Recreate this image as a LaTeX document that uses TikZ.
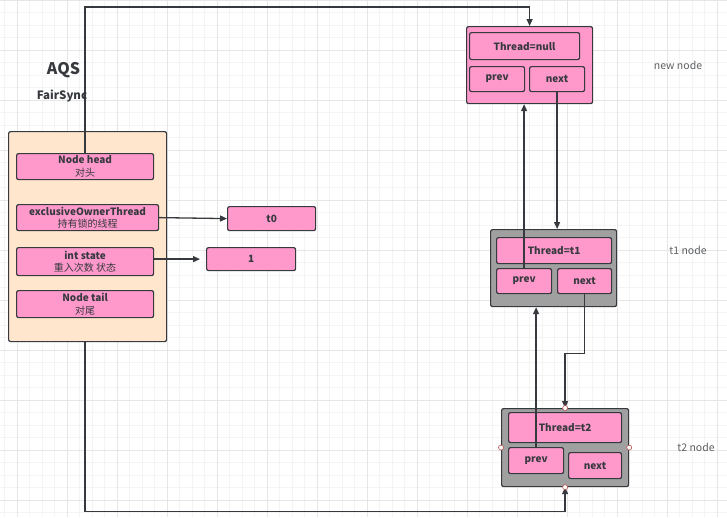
\documentclass[tikz,border=0pt]{standalone}
\usepackage{fontspec}
\setmainfont{Noto Sans CJK SC}
\usetikzlibrary{arrows.meta}
\definecolor{pinkfill}{HTML}{FF99CC}
\definecolor{peach}{HTML}{FFE6CC}
\definecolor{holdgray}{HTML}{A0A0A0}
\definecolor{inkdark}{HTML}{36393D}
\definecolor{gridlo}{HTML}{F4F4F4}
\definecolor{gridhi}{HTML}{E6E6E6}
\definecolor{handlered}{HTML}{B85450}
\tikzset{
  box/.style={rectangle,rounded corners=2pt,draw=inkdark,line width=1.2pt,inner sep=0pt,anchor=north west,
    text=inkdark,font=\fontsize{10}{12.5}\selectfont,align=center},
  field/.style={box,fill=pinkfill},
  holder/.style={box,fill=peach},
  grayholder/.style={box,fill=holdgray},
  pinkholder/.style={box,fill=pinkfill},
  link/.style={draw=inkdark,line width=1.3pt,-{Triangle[length=7pt,width=6pt]}},
  tag/.style={text=inkdark!80,font=\fontsize{10.5}{12}\selectfont},
  handle/.style={circle,draw=handlered,fill=white,line width=0.6pt,inner sep=0pt,minimum size=5pt}
}
\begin{document}
\begin{tikzpicture}[x=1pt,y=-1pt]
	\useasboundingbox (0,0) rectangle (727,517);
	\fill[white] (0,0) rectangle (727,517);
	% background grid
	\foreach \gx in {4.5,17,...,727} \draw[gridlo,line width=0.8pt] (\gx,0) -- (\gx,517);
	\foreach \gy in {12.5,25,...,517} \draw[gridlo,line width=0.8pt] (0,\gy) -- (727,\gy);
	\foreach \gx in {17,67,...,727} \draw[gridhi,line width=0.8pt] (\gx,0) -- (\gx,517);
	\foreach \gy in {0,50,...,517} \draw[gridhi,line width=0.8pt] (0,\gy) -- (727,\gy);

	% AQS side
	\node[text=inkdark,font=\bfseries\fontsize{16}{17}\selectfont] (aqslbl) at (63.5,70) {AQS};
	\node[text=inkdark,font=\bfseries\fontsize{11.5}{13}\selectfont] (synclbl) at (62,96) {FairSync};
	\node[holder,minimum width=158,minimum height=210] (aqs) at (8,131) {};
	\node[field,minimum width=137,minimum height=26] (head) at (16,153) {\textbf{Node head}\\对头};
	\node[field,minimum width=142,minimum height=26] (owner) at (16,204) {\textbf{exclusiveOwnerThread}\\持有锁的线程};
	\node[field,minimum width=137,minimum height=28] (state) at (16,247) {\textbf{int state}\\重入次数 状态};
	\node[field,minimum width=137,minimum height=27] (tail) at (16,290) {\textbf{Node tail}\\对尾};
	\node[field,minimum width=88,minimum height=24] (tzero) at (227,206) {\textbf{t0}};
	\node[field,minimum width=89,minimum height=23] (one) at (206,247) {\textbf{1}};

	% new node
	\node[pinkholder,minimum width=126,minimum height=77] (newnode) at (466,26) {};
	\node[field,minimum width=110,minimum height=27] (nthr) at (469,32) {\textbf{Thread=null}};
	\node[field,minimum width=55,minimum height=25] (nprev) at (469,66) {\textbf{prev}};
	\node[field,minimum width=55,minimum height=25] (nnext) at (529,66) {\textbf{next}};
	\node[tag] (newlbl) at (678,65) {new node};

	% t1 node
	\node[grayholder,minimum width=126,minimum height=77] (tone) at (490,229) {};
	\node[field,minimum width=115,minimum height=26] (athr) at (496,237) {\textbf{Thread=t1}};
	\node[field,minimum width=55,minimum height=25] (aprev) at (496,268) {\textbf{prev}};
	\node[field,minimum width=54,minimum height=25] (anext) at (557,268) {\textbf{next}};
	\node[tag] (tonelbl) at (688,250) {t1 node};

	% t2 node
	\node[grayholder,minimum width=127,minimum height=78] (ttwo) at (501,408) {};
	\node[field,minimum width=113,minimum height=30] (bthr) at (508,412) {\textbf{Thread=t2}};
	\node[field,minimum width=55,minimum height=26] (bprev) at (508,447) {\textbf{prev}};
	\node[field,minimum width=53,minimum height=26] (bnext) at (568,452) {\textbf{next}};
	\node[tag] (ttwolbl) at (696,447) {t2 node};

	% connectors
	\coordinate (hbend) at (0,7);
	\draw[link] (head.north) -- (head.north |- hbend) -| (newnode.north);
	\draw[link] (owner.east) -- (tzero.west);
	\draw[link,shorten >=6pt] (state.east |- one.west) -- (one.west);
	\draw[link] (nnext.south) -- (nnext.south |- tone.north);
	\draw[link] (aprev.north) -- (aprev.north |- newnode.south);
	\draw[link] (anext.south) -- ++(0,59) -| (ttwo.north);
	\draw[link] (bprev.north) -- (bprev.north |- tone.south);
	\draw[link] (tail |- aqs.south) -- ++(0,169) -| (ttwo.south);

	% selection handles on t2
	\foreach \side in {north,south,east,west}
		\node[handle] (hd-\side) at (ttwo.\side) {};
\end{tikzpicture}
\end{document}
